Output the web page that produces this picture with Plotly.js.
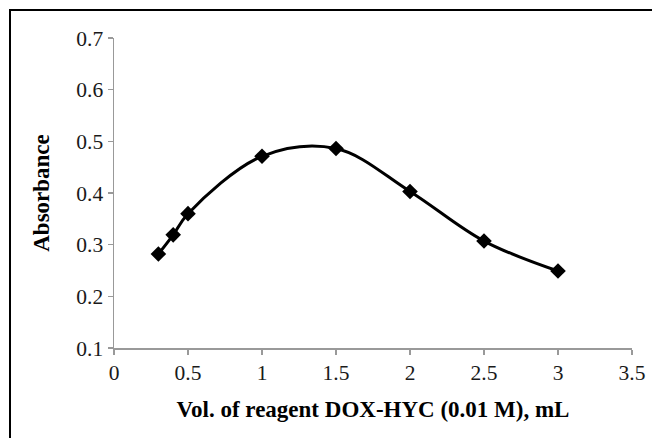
<!DOCTYPE html>
<html>
<head>
<meta charset="utf-8">
<script src="https://cdn.plot.ly/plotly-3.0.1.min.js"></script>
<style>
html,body{margin:0;padding:0;background:#fff;}
#chart{width:652px;height:438px;}
</style>
</head>
<body>
<div id="chart"></div>
<script>
const volume = [0.3, 0.4, 0.5, 1.0, 1.5, 2.0, 2.5, 3.0];
const absorbance = [0.282, 0.319, 0.360, 0.471, 0.486, 0.403, 0.307, 0.249];
const xTicks = [0, 0.5, 1, 1.5, 2, 2.5, 3, 3.5];
const xTickText = ["0", "0.5", "1", "1.5", "2", "2.5", "3", "3.5"];
const yTicks = [0.1, 0.2, 0.3, 0.4, 0.5, 0.6, 0.7];
const yTickText = ["0.1", "0.2", "0.3", "0.4", "0.5", "0.6", "0.7"];

const W = 652, H = 438;
const m = {l: 114, r: 20, t: 38, b: 90};
const pw = W - m.l - m.r, ph = H - m.t - m.b;
function px(x){ return (x - m.l) / pw; }
function py(y){ return (H - m.b - y) / ph; }

const trace = {
  x: volume, y: absorbance,
  type: 'scatter', mode: 'lines+markers',
  line: {shape: 'spline', smoothing: 1, color: '#000', width: 3},
  marker: {symbol: 'diamond', size: 12, color: '#000'},
  showlegend: false,
  cliponaxis: false
};

const axisFont = {family: 'Liberation Serif, Times New Roman, serif', size: 21.5, color: '#1a1a1a'};
const titleFont = {family: 'Liberation Serif, Times New Roman, serif', size: 23, color: '#000', weight: 'bold'};

const layout = {
  width: W, height: H,
  margin: m,
  paper_bgcolor: '#fff', plot_bgcolor: '#fff',
  xaxis: {
    range: [0, 3.5], tickvals: xTicks, ticktext: xTickText,
    showgrid: false, zeroline: false, showline: true, linecolor: '#999', linewidth: 1.5,
    ticks: 'outside', ticklen: 5, tickcolor: '#999', tickwidth: 1.5,
    tickfont: axisFont,
    title: {text: '<b>Vol. of reagent DOX-HYC (0.01 M), mL</b>', font: titleFont, standoff: 16}
  },
  yaxis: {
    range: [0.1, 0.7], tickvals: yTicks, ticktext: yTickText,
    showgrid: false, zeroline: false, showline: true, linecolor: '#999', linewidth: 1.5,
    ticks: 'outside', ticklen: 5, tickcolor: '#999', tickwidth: 1.5,
    tickfont: axisFont,
    title: {text: '<b>Absorbance</b>', font: titleFont, standoff: 20}
  },
  shapes: [
    {type: 'line', xref: 'paper', yref: 'paper', x0: px(9), x1: px(660), y0: py(10), y1: py(10), line: {color: '#000', width: 2}},
    {type: 'line', xref: 'paper', yref: 'paper', x0: px(10), x1: px(10), y0: py(9), y1: py(445), line: {color: '#000', width: 2}}
  ]
};

Plotly.newPlot('chart', [trace], layout, {staticPlot: true, displayModeBar: false});
</script>
</body>
</html>
